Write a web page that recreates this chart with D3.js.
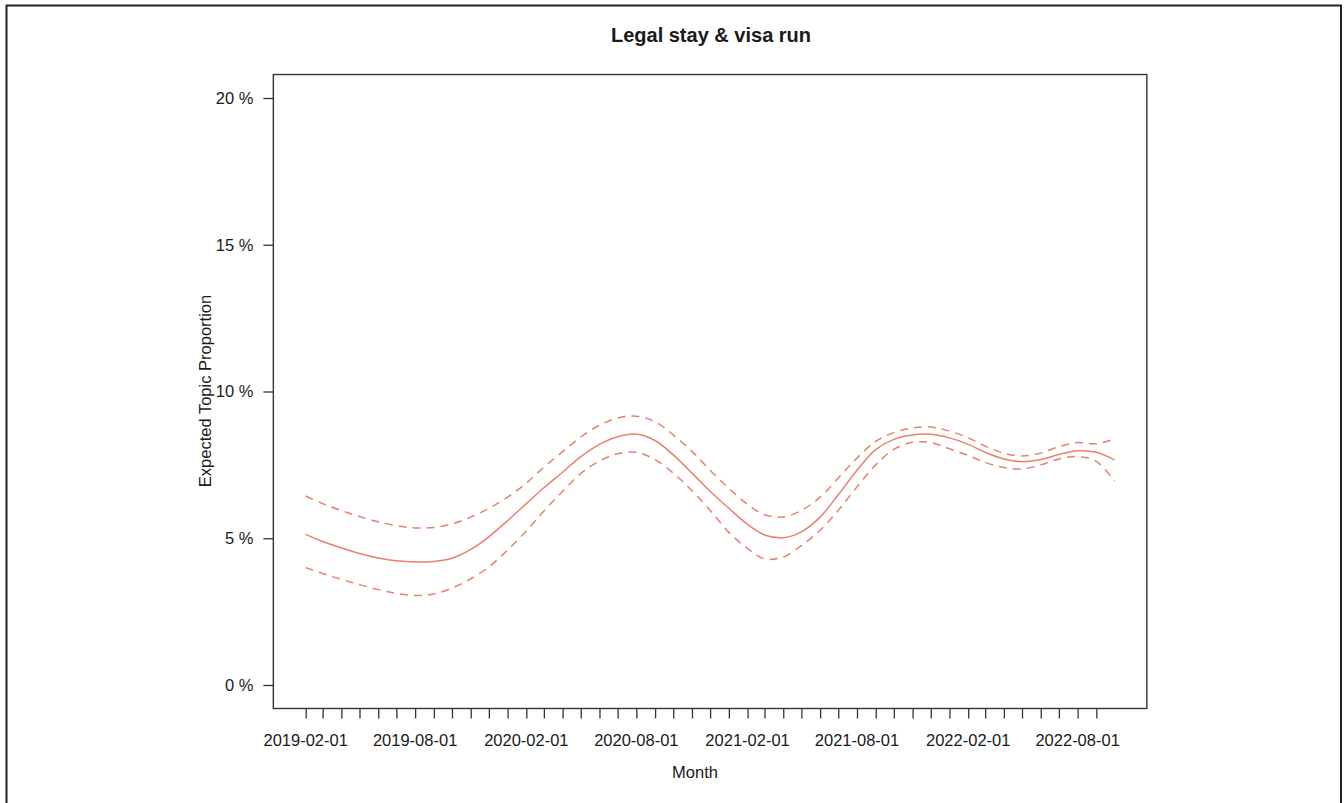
<!DOCTYPE html>
<html>
<head>
<meta charset="utf-8">
<script src="https://cdn.jsdelivr.net/npm/d3@7"></script>
<style>
  body { margin: 0; background: #fff; }
  text { font-family: "Liberation Sans", Arial, sans-serif; fill: #1a1a1a; }
</style>
</head>
<body>
<script>
// months 2019-02-01 .. 2022-10-01
const months = d3.timeMonths(new Date(2019, 1, 1), new Date(2022, 9, 2));

// expected topic proportion (%)
const meanVals = [5.13, 4.89, 4.67, 4.48, 4.33, 4.23, 4.19, 4.21, 4.32, 4.62,
  5.05, 5.60, 6.18, 6.72, 7.25, 7.78, 8.20, 8.46, 8.55, 8.33,
  7.84, 7.22, 6.60, 6.02, 5.47, 5.11, 5.02, 5.22, 5.72, 6.48,
  7.32, 8.02, 8.37, 8.52, 8.54, 8.42, 8.20, 7.93, 7.70, 7.61,
  7.68, 7.85, 7.98, 7.93, 7.67];
const upperVals = [6.44, 6.18, 5.94, 5.74, 5.56, 5.43, 5.35, 5.37, 5.49, 5.72,
  6.02, 6.40, 6.88, 7.42, 7.95, 8.45, 8.85, 9.10, 9.16, 8.97,
  8.52, 7.96, 7.32, 6.70, 6.15, 5.80, 5.72, 5.95, 6.40, 7.05,
  7.73, 8.30, 8.60, 8.76, 8.79, 8.65, 8.42, 8.14, 7.90, 7.80,
  7.90, 8.12, 8.26, 8.22, 8.38];
const lowerVals = [4.00, 3.80, 3.60, 3.42, 3.25, 3.12, 3.05, 3.10, 3.30, 3.62,
  4.02, 4.60, 5.25, 5.93, 6.60, 7.20, 7.63, 7.88, 7.93, 7.68,
  7.22, 6.62, 5.95, 5.20, 4.65, 4.30, 4.36, 4.75, 5.27, 5.95,
  6.75, 7.50, 8.03, 8.27, 8.26, 8.05, 7.82, 7.58, 7.41, 7.36,
  7.50, 7.70, 7.78, 7.62, 6.95];

const yTicks = [0, 5, 10, 15, 20];
const labelMonths = d3.timeMonths(new Date(2019, 1, 1), new Date(2022, 7, 2), 6);

const W = 1344, H = 803;
const lineColor = "#e9806d";

const svg = d3.select("body").append("svg")
  .attr("width", W).attr("height", H);

// outer frame of the picture
svg.append("path")
  .attr("d", "M6.5," + (H + 5) + "V5.5H1341V" + (H + 5))
  .attr("fill", "none").attr("stroke", "#222").attr("stroke-width", 2);

// scales (R style, 4% padding around the data range)
const x = d3.scaleTime()
  .domain([months[0], months[months.length - 1]])
  .range([305.7, 1114.5]);
const y = d3.scaleLinear().domain([0, 20]).range([685, 98]);

const pad = (x.range()[1] - x.range()[0]) * 0.04;
const boxLeft = x.range()[0] - pad, boxRight = x.range()[1] + pad;
const boxTop = y(20 + 0.8), boxBottom = y(0 - 0.8);

svg.append("rect")
  .attr("x", boxLeft).attr("y", boxTop)
  .attr("width", boxRight - boxLeft).attr("height", boxBottom - boxTop)
  .attr("fill", "none").attr("stroke", "#333").attr("stroke-width", 1.4);

// y axis
const yAxis = svg.append("g").attr("transform", `translate(${boxLeft},0)`)
  .call(d3.axisLeft(y).tickValues(yTicks).tickSize(10).tickPadding(10)
    .tickFormat(d => d + " %"));
yAxis.select(".domain").remove();
yAxis.selectAll("line").attr("stroke", "#333").attr("stroke-width", 1.3);
yAxis.selectAll("text").attr("font-size", 16.5).attr("font-family", null).attr("fill", null);

// x axis: a tick every month, labels every six months
const xAxis = svg.append("g").attr("transform", `translate(0,${boxBottom})`)
  .call(d3.axisBottom(x).tickValues(months.slice(0, months.length - 1)).tickSize(10)
    .tickFormat(""));
xAxis.select(".domain").remove();
xAxis.selectAll("line").attr("stroke", "#333").attr("stroke-width", 1.3);

svg.append("g").selectAll("text")
  .data(labelMonths)
  .join("text")
  .attr("x", d => x(d))
  .attr("y", 745.5)
  .attr("text-anchor", "middle")
  .attr("font-size", 16.5)
  .text(d3.timeFormat("%Y-%m-%d"));

// lines
const line = d3.line()
  .x((d, i) => x(months[i]))
  .y(d => y(d))
  .curve(d3.curveCatmullRom.alpha(0.5));

svg.append("path").datum(meanVals)
  .attr("d", line).attr("fill", "none")
  .attr("stroke", lineColor).attr("stroke-width", 1.5);

[upperVals, lowerVals].forEach(vals => {
  svg.append("path").datum(vals)
    .attr("d", line).attr("fill", "none")
    .attr("stroke", lineColor).attr("stroke-width", 1.5)
    .attr("stroke-dasharray", "8,6");
});

// titles
svg.append("text")
  .attr("x", 711).attr("y", 42)
  .attr("text-anchor", "middle")
  .attr("font-size", 20).attr("font-weight", "bold")
  .text("Legal stay & visa run");

svg.append("text")
  .attr("x", 695).attr("y", 778)
  .attr("text-anchor", "middle")
  .attr("font-size", 16.5)
  .text("Month");

svg.append("text")
  .attr("transform", "translate(211,391) rotate(-90)")
  .attr("text-anchor", "middle")
  .attr("font-size", 16.5)
  .text("Expected Topic Proportion");
</script>
</body>
</html>
